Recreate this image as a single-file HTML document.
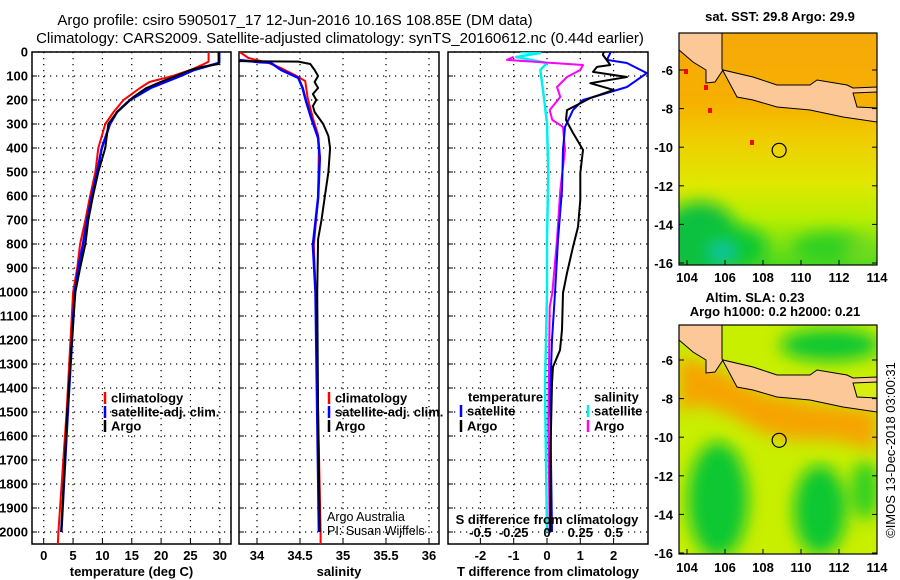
<!DOCTYPE html>
<html><head><meta charset="utf-8"><style>
body{margin:0;background:#fff}
svg{display:block;font-family:"Liberation Sans",sans-serif}
.b{font-weight:bold;font-size:13px}
.t{font-size:15px}
</style></head><body>
<svg id="s" width="900" height="580" viewBox="0 0 900 580">
<defs>
<clipPath id="c1"><rect x="32" y="52" width="199" height="492"/></clipPath>
<clipPath id="c2"><rect x="239" y="52" width="200" height="492"/></clipPath>
<clipPath id="c3"><rect x="448" y="52" width="200" height="492"/></clipPath>
<clipPath id="cm1"><rect x="679" y="33" width="198" height="232"/></clipPath>
<clipPath id="cm2"><rect x="679" y="325" width="198" height="229"/></clipPath>
<filter id="bl" x="-50%" y="-50%" width="200%" height="200%"><feGaussianBlur stdDeviation="8"/></filter>
<linearGradient id="sstg" x1="0" y1="0" x2="0" y2="1">
<stop offset="0" stop-color="#f6a90a"/><stop offset="0.3" stop-color="#f6b000"/><stop offset="0.45" stop-color="#f0cc00"/><stop offset="0.65" stop-color="#dfe800"/><stop offset="0.8" stop-color="#b8ee00"/><stop offset="1" stop-color="#50d820"/>
</linearGradient>
</defs>
<g>
<text class="t" x="295" y="25" text-anchor="middle">Argo profile: csiro 5905017_17 12-Jun-2016 10.16S 108.85E (DM data)</text>
<text class="t" x="340" y="43" text-anchor="middle">Climatology: CARS2009. Satellite-adjusted climatology: synTS_20160612.nc (0.44d earlier)</text>
</g>
<g id="axes"></g>
<g id="plots"></g>
<g id="maps"></g>
</svg>
<script>
// ---------- data ----------
const depthTicks=[0,100,200,300,400,500,600,700,800,900,1000,1100,1200,1300,1400,1500,1600,1700,1800,1900,2000];
const tempTicks=[0,5,10,15,20,25,30];
const salTicks=[34,34.5,35,35.5,36];
const salTickLabels=["34","34.5","35","35.5","36"];
const tdTicks=[-2,-1,0,1,2];
const sdTicks=[-0.5,-0.25,0,0.25,0.5];
const sdTickLabels=["-0.5","-0.25","0","0.25","0.5"];

const tArgoD=[0,50,62,75,100,125,150,187,220,250,300,400,500,600,700,800,900,1000,1200,1500,1800,2000];
const tArgoV=[29.8,29.8,27,25,22.5,19.9,17.5,15.3,13.8,12.5,11,10.5,9.3,8.4,7.6,7.1,6.2,5.4,4.8,4.0,3.4,3.0];
const tClimD=[0,40,50,75,100,125,150,200,250,300,400,500,600,700,800,900,1000,1500,2000,2050];
const tClimV=[28.1,28.1,27.3,25,22,18,16.4,13.6,11.9,10.5,9.3,8.8,7.9,7.1,6.2,5.7,5.0,3.9,2.5,2.4];
const tSatD=[0,45,75,100,150,200,250,300,400,500,600,700,800,900,1000,1500,2000];
const tSatV=[29.9,29.9,25.6,23.3,18.2,14.7,12.5,11.3,9.9,9.1,8.2,7.4,6.7,5.9,5.3,4.1,3.0];

const sArgoD=[0,38,40,50,75,100,125,150,175,200,225,250,300,350,400,500,600,700,780,1000,1500,2000];
const sArgoV=[33.75,33.75,34.48,34.62,34.67,34.71,34.67,34.71,34.65,34.69,34.65,34.67,34.77,34.83,34.85,34.83,34.79,34.75,34.71,34.70,34.71,34.73];
const sClimD=[0,25,45,67,96,121,192,275,346,400,608,804,1000,1500,2000,2050];
const sClimV=[33.8,33.9,34.13,34.28,34.44,34.56,34.59,34.65,34.71,34.72,34.71,34.66,34.68,34.71,34.74,34.74];
const sSatD=[0,33,42,45,75,108,150,204,275,358,441,608,804,1000,1500,2000];
const sSatV=[33.78,33.78,34.01,34.16,34.28,34.48,34.53,34.57,34.63,34.71,34.73,34.71,34.65,34.68,34.70,34.72];

const dTSatD=[0,4,33,46,88,146,171,200,242,312,408,575,783,1004,1200,1408,1700,2000];
const dTSatV=[1.9,1.9,1.8,2.4,3.0,2.4,1.8,1.08,0.78,0.54,0.48,0.45,0.33,0.24,0.15,0.1,0.12,0.15];
const dTArgoD=[0,12,54,62,83,104,130,158,192,242,283,337,408,504,617,729,812,921,1004,1158,1242,1312,1379,1700,2000];
const dTArgoV=[1.7,1.68,1.9,1.5,1.38,2.4,1.3,2.0,1.3,0.6,0.57,0.78,1.08,1.0,1.0,0.93,0.78,0.6,0.48,0.45,0.39,0.18,0.15,0.1,0.1];
const dSSatD=[0,4,21,46,75,158,296,504,783,1004,1400,2000];
const dSSatV=[-0.2,-0.05,-0.23,0,-0.05,-0.03,0,0.01,0,0,-0.015,0];
const dSArgoD=[20,33,54,75,104,146,187,242,283,312,408,575,783,1004,1062,1546,2000];
const dSArgoV=[-0.25,-0.3,0.27,0.25,0.15,0.075,0.1,0.02,0.04,0.12,0.135,0.1,0.075,0.04,0.02,0.01,0.02];

// ---------- scales ----------
const yD=d=>52+d*0.24;
const xT=t=>43.7+t*5.87;
const xS=s=>257+(s-34)*86;
const xTD=v=>547+v*33.3;
const xSD=v=>547+v*133.3;
const NS='http://www.w3.org/2000/svg';
function mk(tag,attrs,parent){const e=document.createElementNS(NS,tag);for(const k in attrs)e.setAttribute(k,attrs[k]);parent.appendChild(e);return e;}
const axes=document.getElementById('axes'),plots=document.getElementById('plots'),maps=document.getElementById('maps');

const panels=[{x:32,w:199,xt:tempTicks.map(xT),xl:tempTicks.map(String),title:'temperature (deg C)',name:'temperature-panel'},
{x:239,w:200,xt:salTicks.map(xS),xl:salTickLabels,title:'salinity',name:'salinity-panel'},
{x:448,w:200,xt:tdTicks.map(xTD),xl:tdTicks.map(String),title:'T difference from climatology',name:'difference-panel'}];
panels.forEach((p,i)=>{
 const g=mk('g',{},axes);
 
 
 depthTicks.forEach(d=>{const l=mk('line',{x1:p.x,x2:p.x+p.w,y1:yD(d),y2:yD(d),stroke:'#000','stroke-width':1.2,'stroke-dasharray':'1.2 4.8'},g);
  mk('line',{x1:p.x,x2:p.x+5,y1:yD(d),y2:yD(d),stroke:'#000','stroke-width':1},g);});
 p.xt.forEach((x,j)=>{const l=mk('line',{x1:x,x2:x,y1:52,y2:544,stroke:'#000','stroke-width':1.2,'stroke-dasharray':'1.2 4.8'},g);
  mk('line',{x1:x,x2:x,y1:539,y2:544,stroke:'#000'},g);
  const t=mk('text',{x:x,y:560,'text-anchor':'middle',class:'b'},g);t.textContent=p.xl[j];});
 const r=mk('rect',{x:p.x,y:52,width:p.w,height:492,fill:'none',stroke:'#000','stroke-width':1.5},g);
 
 const tt=mk('text',{x:p.x+p.w/2,y:576,'text-anchor':'middle',class:'b'},g);tt.textContent=p.title;
 
});
depthTicks.forEach(d=>{const t=mk('text',{x:28,y:yD(d)+4.5,'text-anchor':'end',class:'b'},axes);t.textContent=d;
 });

function line(D,V,sx,col,clip,name,w){
 const pts=D.map((d,i)=>sx(V[i]).toFixed(1)+','+yD(d).toFixed(1)).join(' ');
 const p=mk('polyline',{points:pts,fill:'none',stroke:col,'stroke-width':w||2,'clip-path':'url(#'+clip+')','stroke-linejoin':'round'},plots);
 }
line(tClimD,tClimV,xT,'#f00','c1','temp-climatology-line',2);
line(tSatD,tSatV,xT,'#00f','c1','temp-satellite-line',2.5);
line(tArgoD,tArgoV,xT,'#000','c1','temp-argo-line',2);
line(sClimD,sClimV,xS,'#f00','c2','sal-climatology-line',2);
line(sSatD,sSatV,xS,'#00f','c2','sal-satellite-line',2.5);
line(sArgoD,sArgoV,xS,'#000','c2','sal-argo-line',2);
line(dSSatD,dSSatV,xSD,'#00f0f0','c3','s-diff-satellite-line',2.5);
line(dSArgoD,dSArgoV,xSD,'#f0f','c3','s-diff-argo-line',2);
line(dTSatD,dTSatV,xTD,'#00f','c3','t-diff-satellite-line',2);
line(dTArgoD,dTArgoV,xTD,'#000','c3','t-diff-argo-line',2);

function leg(x,y,col,txt){const g=mk('g',{},plots);
 
 if(col)mk('line',{x1:x,x2:x,y1:y-6,y2:y+6,stroke:col,'stroke-width':2.5},g);
 const t=mk('text',{x:x+6,y:y+4.5,class:'b'},g);t.textContent=txt;}
leg(105,398,'#f00','climatology');leg(105,412,'#00f','satellite-adj. clim.');leg(105,426,'#000','Argo');
leg(329,398,'#f00','climatology');leg(329,412,'#00f','satellite-adj. clim.');leg(329,426,'#000','Argo');
leg(462,397,null,'temperature');leg(461,411,'#00f','satellite');leg(461,426,'#000','Argo');
leg(588,397,null,'salinity');leg(588,411,'#00f0f0','satellite');leg(588,426,'#f0f','Argo');
{const t=mk('text',{x:547,y:524,'text-anchor':'middle',class:'b'},plots);t.textContent='S difference from climatology';
 
 sdTicks.forEach((v,i)=>{const q=mk('text',{x:xSD(v),y:537,'text-anchor':'middle',class:'b'},plots);q.textContent=sdTickLabels[i];
 });}
[['Argo Australia',521],['PI: Susan Wijffels',535]].forEach(a=>{const t=mk('text',{x:327,y:a[1],'font-size':'12.5px'},plots);t.textContent=a[0];
 });

// ---------- maps ----------
const latTicks=[-6,-8,-10,-12,-14,-16];
const lonTicks=[104,106,108,110,112,114];
const mapLx=lon=>687+(lon-104)*19;
function drawMap(oy,name,bg){
 const g=mk('g',{},maps);
 const cg=mk('g',{'clip-path':'url(#'+(oy?'cm2':'cm1')+')'},g);
 bg(cg);
 const land='M679,33 L722,33 L722,69 L737,97 L753,100 L777,107 L810,110 L843,117 L877,122 L877,87 L853,88 L847,85 L817,80 L810,85 L777,85 L753,77 L723,70 L715,82 L706,83 L706,70 L693,62 L679,50 Z';
 const lp=mk('path',{d:land,transform:'translate(0,'+oy+')',fill:'#fcc898',stroke:'#000','stroke-width':1},cg);
 
 mk('path',{d:'M853,93 L877,92 L877,108 L857,107 Z',transform:'translate(0,'+oy+')',fill:oy?'#d6ee10':'#f6b000',stroke:'#000','stroke-width':1},cg);
 const c=mk('circle',{cx:mapLx(108.85),cy:70+(10.16-6)*19.3+oy,r:7,fill:'none',stroke:'#000','stroke-width':1.2},g);
 
 mk('rect',{x:679,y:33+(oy?292:0),width:198,height:oy?229:232,fill:'none',stroke:'#000','stroke-width':1.2},g);
 latTicks.forEach(l=>{const y=70+(-l-6)*19.3+oy;
  mk('line',{x1:679,x2:684,y1:y,y2:y,stroke:'#000'},g);mk('line',{x1:872,x2:877,y1:y,y2:y,stroke:'#000'},g);
  const t=mk('text',{x:673,y:y+5,'text-anchor':'end',class:'b'},g);t.textContent=l;
  });
 lonTicks.forEach(l=>{const x=mapLx(l);
  mk('line',{x1:x,x2:x,y1:(oy?549:260),y2:(oy?554:265),stroke:'#000'},g);
  const t=mk('text',{x:x,y:(oy?572:282),'text-anchor':'middle',class:'b'},g);t.textContent=l;
  });
}
drawMap(0,'sst-map',cg=>{
 mk('rect',{x:679,y:33,width:198,height:232,fill:'url(#sstg)'},cg);
 const b=mk('g',{filter:'url(#bl)'},cg);
 mk('ellipse',{cx:700,cy:240,rx:40,ry:38,fill:'#10c040'},b);
 mk('ellipse',{cx:735,cy:248,rx:32,ry:22,fill:'#10c830'},b);
 mk('ellipse',{cx:830,cy:248,rx:38,ry:16,fill:'#30d020'},b);
 mk('ellipse',{cx:722,cy:252,rx:12,ry:7,fill:'#10c0c0'},b);
 mk('ellipse',{cx:860,cy:250,rx:14,ry:10,fill:'#70d820'},b);
 [[684,69],[704,85],[708,108],[750,140]].forEach(p=>mk('rect',{x:p[0],y:p[1],width:4,height:5,fill:'#f00'},cg));
});
drawMap(290,'sla-map',cg=>{
 mk('rect',{x:679,y:325,width:198,height:229,fill:'#c8ee00'},cg);
 const b=mk('g',{filter:'url(#bl)'},cg);
 mk('path',{d:'M679,355 L720,370 L760,392 L810,402 L877,410 L877,450 L830,440 L790,440 L760,432 L730,415 L700,405 L679,412 Z',fill:'#f6a400'},b);
 mk('ellipse',{cx:718,cy:500,rx:30,ry:58,fill:'#10c830'},b);
 mk('ellipse',{cx:820,cy:510,rx:26,ry:45,fill:'#10c830'},b);
 mk('ellipse',{cx:865,cy:490,rx:14,ry:30,fill:'#30d020'},b);
 mk('ellipse',{cx:830,cy:345,rx:50,ry:16,fill:'#10c830'},b);
});
[['sat. SST: 29.8 Argo: 29.9',780,21,'sst-map-title'],['Altim. SLA: 0.23',755,302,'sla-map-title'],['Argo h1000: 0.2 h2000: 0.21',775,316,'argo-height-title']].forEach(a=>{
 const t=mk('text',{x:a[1],y:a[2],'text-anchor':'middle',class:'b'},maps);t.textContent=a[0];
 });
{const t=mk('text',{x:0,y:0,'text-anchor':'middle','font-size':'13px',transform:'translate(895,450) rotate(-90)'},maps);
 t.textContent='©IMOS 13-Dec-2018 03:00:31';
 }
</script>
</body></html>
